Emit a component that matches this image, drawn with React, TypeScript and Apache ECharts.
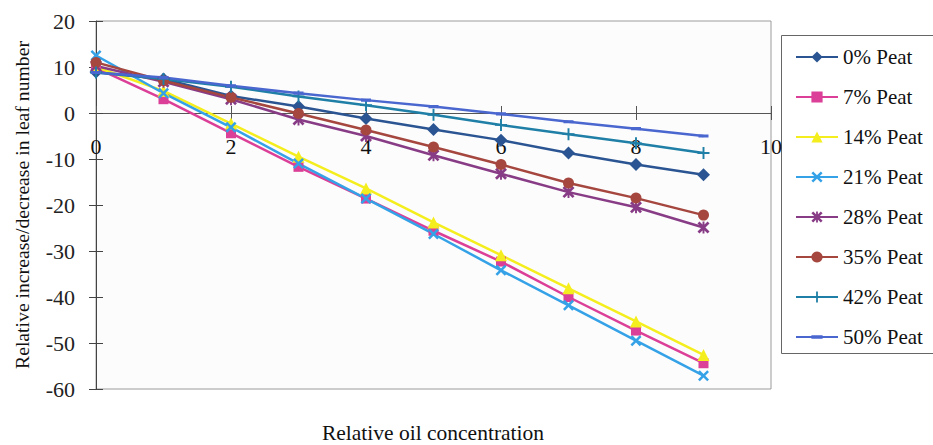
import React, { useEffect, useRef } from "react";
import * as echarts from "echarts";

// Relative oil concentration (x positions of the measurements)
const concentrations = [0, 1, 2, 3, 4, 5, 6, 7, 8, 9];

const seriesNames = [
  "0% Peat",
  "7% Peat",
  "14% Peat",
  "21% Peat",
  "28% Peat",
  "35% Peat",
  "42% Peat",
  "50% Peat",
];

// Relative increase/decrease in leaf number for each peat level
const peat0 = [8.9, 7.4, 3.7, 1.4, -1.2, -3.6, -5.9, -8.7, -11.2, -13.4];
const peat7 = [9.8, 3.0, -4.4, -11.7, -18.6, -25.6, -32.3, -40.0, -47.3, -54.4];
const peat14 = [10.0, 4.8, -2.3, -9.5, -16.4, -23.8, -30.9, -38.1, -45.3, -52.6];
const peat21 = [12.5, 4.3, -3.1, -11.0, -18.6, -26.3, -34.2, -41.8, -49.5, -57.1];
const peat28 = [10.2, 6.8, 3.0, -1.4, -5.0, -9.2, -13.2, -17.2, -20.5, -24.9];
const peat35 = [11.0, 7.0, 3.4, -0.1, -3.7, -7.4, -11.2, -15.2, -18.5, -22.2];
const peat42 = [8.8, 7.4, 5.7, 3.6, 1.7, -0.4, -2.6, -4.6, -6.6, -8.7];
const peat50 = [8.8, 7.7, 5.9, 4.3, 2.8, 1.4, -0.2, -1.9, -3.4, -5.0];

const seriesValues = [peat0, peat7, peat14, peat21, peat28, peat35, peat42, peat50];

const seriesColors = [
  "#2B5592",
  "#DB3F97",
  "#F5EE1E",
  "#35A2E8",
  "#883C86",
  "#A5473F",
  "#1F7FA6",
  "#4A66CF",
];

// Marker shapes
const X_SHAPE = "M0,1.6L1.6,0L5,3.4L8.4,0L10,1.6L6.6,5L10,8.4L8.4,10L5,6.6L1.6,10L0,8.4L3.4,5Z";
const BAR_V = "M4.2,0L5.8,0L5.8,10L4.2,10Z";
const BAR_H = "M0,4.25L10,4.25L10,5.75L0,5.75Z";
// flat dash inside a square 10x10 box (two hair-thin anchors keep the box square)
const DASH =
  "M0,3.4L10,3.4L10,6.6L0,6.6Z M5,0L5.001,0L5,0.001Z M5,10L5.001,10L5,9.999Z";

const seriesSymbols: any[] = [
  { symbol: "diamond", size: 13 },
  { symbol: "rect", size: 10 },
  { symbol: "triangle", size: 12 },
  { symbol: "path://" + X_SHAPE, size: 11 },
  { symbol: "path://" + X_SHAPE + " " + BAR_V, size: 12 },
  { symbol: "circle", size: 11 },
  { symbol: "path://" + BAR_V + " " + BAR_H, size: 12 },
  { symbol: "path://" + DASH, size: 10 },
];

const yTicks = { min: -60, max: 20, interval: 10 };
const xTicks = { min: 0, max: 10, interval: 2 };

const xTitle = "Relative oil concentration";
const yTitle = "Relative increase/decrease in leaf number";

const FONT = "'Liberation Serif', 'Times New Roman', serif";

// Plot-area box
const GRID = { left: 96, top: 21, right: 162, bottom: 56 };
const CHART_W = 933;
const CHART_H = 445;

export default function App() {
  const ref = useRef<HTMLDivElement>(null);

  useEffect(() => {
    if (!ref.current) return;
    const chart = echarts.init(ref.current, undefined, { renderer: "svg" });

    const plotW = CHART_W - GRID.left - GRID.right;
    const plotH = CHART_H - GRID.top - GRID.bottom;
    // distance from the top of the plot to the y = 0 line
    const zeroFromTop = (plotH * (yTicks.max - 0)) / (yTicks.max - yTicks.min);
    const zeroFromBottom = plotH - zeroFromTop;

    const series = seriesNames.map((name, i) => ({
      name,
      type: "line",
      data: concentrations.map((x, j) => [x, seriesValues[i][j]]),
      symbol: seriesSymbols[i].symbol,
      symbolSize: seriesSymbols[i].size,
      showAllSymbol: true,
      color: seriesColors[i],
      lineStyle: { color: seriesColors[i], width: 2.5 },
      itemStyle: { color: seriesColors[i] },
      xAxisIndex: 0,
      yAxisIndex: 0,
    }));

    const option: any = {
      animation: false,
      backgroundColor: "#ffffff",
      textStyle: { fontFamily: FONT },
      grid: {
        ...GRID,
        show: true,
        borderColor: "#9c9c9c",
        borderWidth: 1,
        backgroundColor: "#fcfcfc",
        containLabel: false,
      },
      xAxis: [
        {
          // x axis line drawn across the y = 0 level
          type: "value",
          position: "bottom",
          offset: -zeroFromBottom,
          ...xTicks,
          axisLine: { show: true, onZero: false, lineStyle: { color: "#555", width: 1 } },
          axisTick: { show: true, inside: false, length: 7, lineStyle: { color: "#555" } },
          axisLabel: { fontSize: 22, color: "#111", fontFamily: FONT, margin: 22 },
          splitLine: { show: false },
        },
        {
          // upper half of the crossing ticks on the zero line
          type: "value",
          position: "top",
          offset: -zeroFromTop,
          ...xTicks,
          axisLine: { show: false, onZero: false },
          axisTick: { show: true, inside: false, length: 7, lineStyle: { color: "#555" } },
          axisLabel: { show: false },
          splitLine: { show: false },
        },
      ],
      yAxis: [
        {
          type: "value",
          position: "left",
          ...yTicks,
          name: yTitle,
          nameLocation: "middle",
          nameRotate: 90,
          nameGap: 64,
          nameTextStyle: { fontSize: 19.7, color: "#111", fontFamily: FONT },
          axisLine: { show: true, onZero: false, lineStyle: { color: "#444", width: 1 } },
          axisTick: { show: true, inside: false, length: 7, lineStyle: { color: "#444" } },
          axisLabel: { fontSize: 22, color: "#222", fontFamily: FONT, margin: 21 },
          splitLine: { show: false },
        },
        {
          // inner half of the crossing ticks on the value axis
          type: "value",
          position: "right",
          offset: -plotW,
          ...yTicks,
          axisLine: { show: false, onZero: false },
          axisTick: { show: true, inside: false, length: 7, lineStyle: { color: "#444" } },
          axisLabel: { show: false },
          splitLine: { show: false },
        },
      ],
      legend: {
        orient: "vertical",
        left: 795,
        top: 45,
        padding: 0,
        itemWidth: 42,
        itemHeight: 14,
        itemGap: 16,
        data: seriesNames,
        textStyle: { fontSize: 21, lineHeight: 24, color: "#111", fontFamily: FONT },
      },
      graphic: [
        {
          type: "rect",
          shape: { x: 781.5, y: 35.5, width: 170, height: 318 },
          style: { fill: "none", stroke: "#666", lineWidth: 1 },
          silent: true,
        },
        {
          type: "text",
          x: 433,
          y: 433,
          style: {
            text: xTitle,
            fontSize: 21.5,
            fill: "#111",
            fontFamily: FONT,
            align: "center",
            verticalAlign: "middle",
          },
        },
      ],
      series,
    };

    chart.setOption(option);
    return () => chart.dispose();
  }, []);

  return (
    <div
      ref={ref}
      style={{ position: "fixed", left: 0, top: 0, width: CHART_W, height: CHART_H }}
    />
  );
}
